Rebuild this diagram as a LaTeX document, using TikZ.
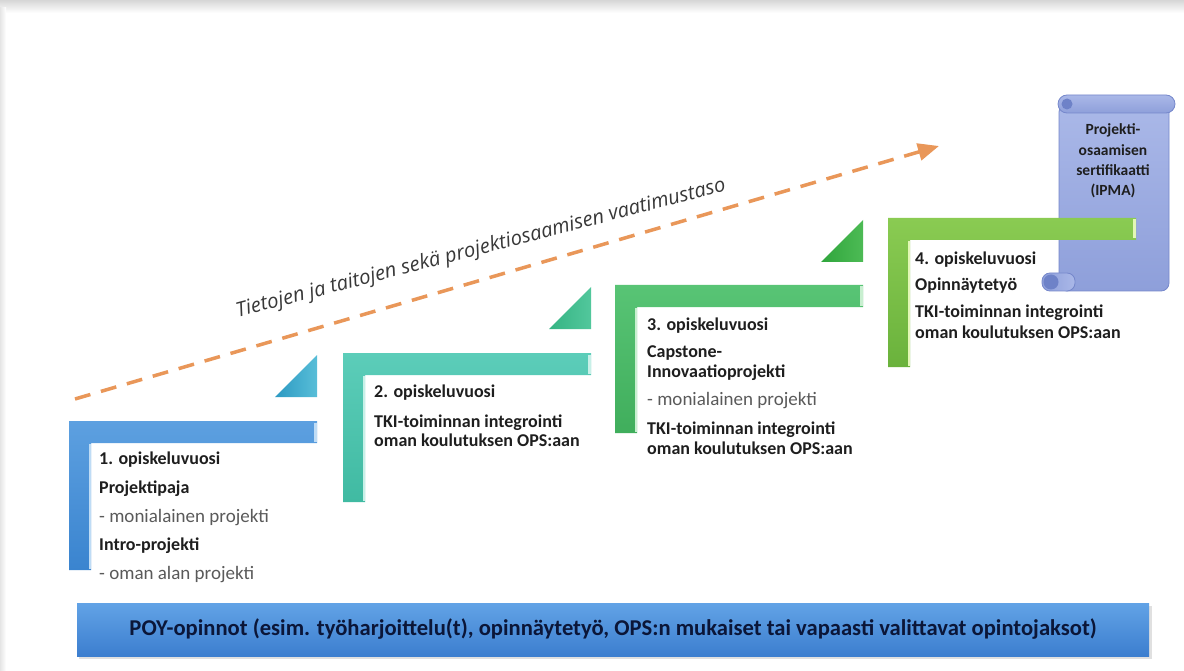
\documentclass[tikz,border=0pt]{standalone}
\usepackage{fontspec}
\setmainfont{Carlito}
\newfontfamily\labelfont{Open Sans}
\usetikzlibrary{arrows.meta}
\definecolor{sAtop}{HTML}{5DA0E0}\definecolor{sAbot}{HTML}{3A84CF}\definecolor{sAhi}{HTML}{BFDCF5}
\definecolor{sBtop}{HTML}{5CCDB9}\definecolor{sBbot}{HTML}{40BAA2}\definecolor{sBhi}{HTML}{C8F0E8}
\definecolor{sCtop}{HTML}{58C475}\definecolor{sCbot}{HTML}{40AE5C}\definecolor{sChi}{HTML}{C8EFD0}
\definecolor{sDtop}{HTML}{8ACB52}\definecolor{sDbot}{HTML}{6AB23C}\definecolor{sDhi}{HTML}{E2F7B5}
\definecolor{tAl}{HTML}{2C99C2}\definecolor{tAr}{HTML}{58BED8}
\definecolor{tBl}{HTML}{35B483}\definecolor{tBr}{HTML}{52C79C}
\definecolor{tCl}{HTML}{2FA53C}\definecolor{tCr}{HTML}{4DBB55}
\definecolor{arrowor}{HTML}{E99759}
\definecolor{txt}{HTML}{1E1E1E}
\definecolor{subtxt}{HTML}{5A5A5A}
\definecolor{scrtop}{HTML}{AAB8E8}\definecolor{scrbot}{HTML}{8E9FDA}
\definecolor{scredge}{HTML}{7587CB}\definecolor{scrcurl}{HTML}{6E82C8}
\definecolor{bartop}{HTML}{62A3E6}\definecolor{barbot}{HTML}{3C7ECF}
\definecolor{bartxt}{HTML}{0B1638}
\newcommand\stepshape[6]{%
  \shade[top color=#4,bottom color=#5] (#1,#2) -- (#1+248,#2) -- (#1+248,#2+22) -- (#1+22,#2+22) -- (#1+22,#3) -- (#1,#3) -- cycle;
  \draw[#6,line width=2.5pt] (#1+246.5,#2+1.5) -- (#1+246.5,#2+20.5);
  \draw[#6,line width=2pt] (#1+21,#2+23) -- (#1+21,#3-1);
}
\newcommand\risetri[4]{%
  \shade[left color=#3,right color=#4] (#1-42,#2) -- (#1,#2) -- (#1,#2-42) -- cycle;
}
\tikzset{
  boldline/.style={anchor=mid west,inner sep=0pt,text=txt,font=\bfseries\fontsize{18}{21}\selectfont},
  subline/.style={anchor=mid west,inner sep=0pt,text=subtxt,font=\fontsize{19}{22}\selectfont},
  scrline/.style={anchor=mid,inner sep=0pt,text=txt,font=\bfseries\fontsize{15.5}{18}\selectfont},
}
\begin{document}
\begin{tikzpicture}[x=1pt,y=-1pt]
\useasboundingbox (0,0) rectangle (1184,671);
\fill[white] (0,0) rectangle (1184,671);
\shade[top color=black!16,bottom color=white] (0,0) rectangle (1184,13);
\shade[left color=black!10,right color=white] (0,8) rectangle (6,671);

% dashed arrow
\coordinate (a0) at (75,399);
\coordinate (a1) at (939,146);
\draw[arrowor,line width=3.5pt,dash pattern=on 16pt off 11pt,-{Triangle[length=21pt,width=17pt]}] (a0) -- (a1);

\node[font=\labelfont\itshape\fontsize{20.2}{24}\selectfont,text=black!78,rotate=14.5,inner sep=0pt] (lbl) at (481,249) {Tietojen ja taitojen sekä projektiosaamisen vaatimustaso};

% triangles
\risetri{317}{397}{tAl}{tAr}
\risetri{591}{329}{tBl}{tBr}
\risetri{863}{262}{tCl}{tCr}

% steps 1-3
\stepshape{69}{421}{570}{sAtop}{sAbot}{sAhi}
\stepshape{343}{353}{502}{sBtop}{sBbot}{sBhi}
\stepshape{615}{285}{433}{sCtop}{sCbot}{sChi}

% scroll
\shade[top color=scrtop,bottom color=scrbot,draw=scredge,line width=0.8pt,rounded corners=8pt] (1059,104) rectangle (1169,291);
\shade[left color=scrbot,right color=scrtop,draw=scredge,line width=0.8pt,rounded corners=8pt] (1042,273) rectangle (1075,291);
\fill[scrcurl] (1051,282) circle (7.5);
\shade[top color=scrtop,bottom color=scrbot,draw=scredge,line width=0.8pt,rounded corners=9pt] (1058,95) rectangle (1175,113);
\fill[scrcurl] (1067,104) circle (5.5);
\node[scrline] (c1) at (1113,132) {Projekti-};
\node[scrline] (c2) at (1113,153) {osaamisen};
\node[scrline] (c3) at (1113,173) {sertifikaatti};
\node[scrline] (c4) at (1113,193) {(IPMA)};

% step 4
\stepshape{888}{218}{367}{sDtop}{sDbot}{sDhi}

% texts step 1
\node[boldline] (s1a) at (99,462) {1. opiskeluvuosi};
\node[boldline] (s1b) at (99,491) {Projektipaja};
\node[subline]  (s1c) at (99,520) {- monialainen projekti};
\node[boldline] (s1d) at (99,548) {Intro-projekti};
\node[subline]  (s1e) at (99,577) {- oman alan projekti};
% step 2
\node[boldline] (s2a) at (374,395) {2. opiskeluvuosi};
\node[boldline] (s2b) at (374,425) {TKI-toiminnan integrointi};
\node[boldline] (s2c) at (374,444) {oman koulutuksen OPS:aan};
% step 3
\node[boldline] (s3a) at (647,328) {3. opiskeluvuosi};
\node[boldline] (s3b) at (647,355) {Capstone-};
\node[boldline] (s3c) at (647,375) {Innovaatioprojekti};
\node[subline]  (s3d) at (647,403) {- monialainen projekti};
\node[boldline] (s3e) at (647,432) {TKI-toiminnan integrointi};
\node[boldline] (s3f) at (647,452) {oman koulutuksen OPS:aan};
% step 4
\node[boldline] (s4a) at (915,262) {4. opiskeluvuosi};
\node[boldline] (s4b) at (915,288) {Opinnäytetyö};
\node[boldline] (s4c) at (915,315) {TKI-toiminnan integrointi};
\node[boldline] (s4d) at (915,336) {oman koulutuksen OPS:aan};

% bottom bar
\fill[black!12] (79,606) rectangle (1152,659);
\node[top color=bartop,bottom color=barbot,minimum width=1072pt,minimum height=53pt,inner sep=0pt,
      text=bartxt,font=\bfseries\fontsize{22.6}{26}\selectfont] (poy) at (613,629.5)
  {POY-opinnot (esim. työharjoittelu(t), opinnäytetyö, OPS:n mukaiset tai vapaasti valittavat opintojaksot)};
\end{tikzpicture}
\end{document}
